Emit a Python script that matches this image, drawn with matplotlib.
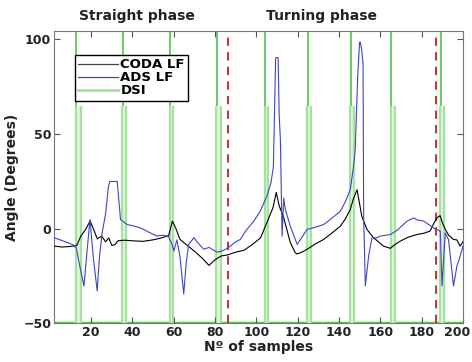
import matplotlib
matplotlib.use("Agg")
import matplotlib.pyplot as plt
from matplotlib.lines import Line2D
import matplotlib.transforms as mtransforms
import numpy as np

# keyframes (sample, angle)
coda_x = [2, 6, 10, 13, 15, 17, 19.5, 21, 23, 25, 27, 28.5, 30, 31.5, 33, 36, 40, 45, 50,
          54, 57.5, 59.3, 61, 63, 66, 70, 74, 77, 80, 83, 86, 90, 94, 98, 102, 105, 108,
          109.6, 111, 113, 116.4, 118.8, 119.6, 122, 124.5, 128, 132.5, 137, 140.6, 143,
          145.4, 147, 148.7, 151, 153.5, 156.7, 159, 161.5, 164.8, 167, 169.6, 173, 177.6,
          181, 184, 186, 187.3, 188.9, 190, 191.4, 193, 195.4, 197, 198.6, 200]
coda_y = [-9.3, -9.8, -9.5, -9, -4, -1, 4, 0, -5.5, -4, -7, -5, -9, -8.5, -6.5, -6.2, -6.5,
          -6.8, -6, -5, -3.7, 3.9, 0, -5.8, -8.5, -12, -16, -19.5, -16.5, -14.5, -14,
          -12.5, -11.5, -8.5, -4.9, 3, 11, 19.1, 12, 6.5, -7.5, -12.8, -13.5, -12.5, -11,
          -8.5, -5.8, -2, 1.2, 5, 10, 16, 20.5, 6.5, -0.5, -4.9, -7, -9.3, -10.5, -8.5, -6.7,
          -4.8, -3.2, -2.5, -1.4, 3, 5.6, 6.8, 3, -0.4, -3.5, -5.8, -6, -9.3, -7]

ads_x = [2, 5, 8.7, 11, 12.8, 14.5, 16.5, 18, 19.4, 21, 22.9, 24, 25.3, 27, 28.3, 29, 32.6,
         34.2, 37.4, 40, 43.9, 48, 51.9, 55, 57.5, 59, 60, 61.5, 63, 64.8, 66, 67.2, 69.7, 72,
         74.5, 77, 80.9, 83.1, 85, 87.4, 90, 92.2, 95, 98.7, 101.8, 105, 107, 108.2, 109.3,
         110.5, 111, 111.6, 112.4, 113.2, 114, 116.4, 119.7, 121.3, 124.5, 128, 132.5, 136,
         140.6, 143, 145.4, 147, 147.8, 149, 149.9, 150.3, 151, 151.6, 151.9, 152.3, 152.7,
         154.3, 155.9, 158, 160, 164.8, 168, 172.9, 176.1, 178, 181, 185.7, 189, 189.8, 191.4,
         193, 195.4, 197, 198.6, 200]
ads_y = [-4.9, -6, -7.5, -8.5, -10.2, -20, -30.4, -12, 4.7, -15, -33, -15, -2.3, 8, 22,
         24.9, 24.9, 4.7, 2.1, 1.5, 0.3, -2, -4, -3.5, -4.4, -8, -11.9, -6, -15, -34.7, -18,
         -8.4, -4.9, -8, -11, -10, -12.5, -12, -11, -9.3, -7, -5.8, -1, 3.9, 9.1, 17, 24,
         32.8, 90.4, 90.4, 60, 46.8, -4, 16.1, 10, 1.2, -8.4, -5.8, -0.5, 0.5, 2.1, 5, 9.1,
         14, 20.5, 32.8, 41.6, 80, 98.6, 98.6, 94, 87, 4.7, -11, -30.4, -14.6, -4.9, -5,
         -4, -3.2, -1, 3.9, 5.6, 4.5, 3.9, 0.3, -1.4, -30.4, -2.3, -6, -30.4, -20, -14.6,
         -9.3]

# DSI pulses: rising and falling sample of each event
dsi_rise = [12.5, 35, 58, 80.6, 104, 124.5, 145.4, 165, 189]
dsi_fall = [15, 36.8, 59.7, 82.6, 105.4, 126.4, 147, 167, 191]
dsi_low = -50
dsi_split = 65

# phase boundaries (red dashed)
phase_x = [86.3, 186.9]
phase_names = ["Straight phase", "Turning phase"]

green = "#5cc85c"
light_green = "#a8e0a0"
txt = "#222222"

fig = plt.figure(figsize=(4.72, 3.62), dpi=100)
ax = fig.add_axes([0.1144, 0.1077, 0.8666, 0.8067])

ax.axhline(dsi_low, color=green, lw=2.5, zorder=1)
for r, f in zip(dsi_rise, dsi_fall):
    ax.fill_betweenx([dsi_low, dsi_split], r, f, color="#e2f5de", lw=0, zorder=1)
    ax.vlines(r, dsi_low, dsi_split, color=light_green, lw=1.6, zorder=1)
    ax.vlines(f, dsi_low, dsi_split, color=light_green, lw=1.6, zorder=1)
    ax.vlines(r + 0.3, dsi_split, 120, color=green, lw=1.3, zorder=1)

for px in phase_x:
    ax.axvline(px, color="#c0393b", lw=1.5, ls=(0, (4, 3)), zorder=2)

ax.plot(coda_x, coda_y, color="black", lw=0.8, zorder=3)
ax.plot(ads_x, ads_y, color="#4045c2", lw=0.8, zorder=3)

ax.set_xlim(2, 200)
ax.set_ylim(-50, 104.5)
ax.set_xticks(np.arange(20, 201, 20))
ax.set_yticks([-50, 0, 50, 100])
ax.tick_params(direction="in", top=True, right=True, length=4, labelsize=9,
               colors="#555555", labelcolor=txt, pad=2)
for lab in ax.get_xticklabels() + ax.get_yticklabels():
    lab.set_fontweight("semibold")
# last x label sits a little left so it stays inside the figure
last = ax.get_xticklabels()[-1]
last.set_transform(last.get_transform() + mtransforms.ScaledTranslation(-6 / 100, 0, fig.dpi_scale_trans))
for s in ax.spines.values():
    s.set_color("#777777")

ax.set_xlabel("Nº of samples", fontsize=10, fontweight="semibold", color=txt, labelpad=1)
ax.set_ylabel("Angle (Degrees)", fontsize=10, fontweight="semibold", color=txt, labelpad=3)

for name, lx in zip(phase_names, [137, 322]):
    fig.text(lx / 472, 1 - 16 / 362, name, ha="center", va="center",
             fontsize=10, fontweight="semibold", color=txt)

handles = [Line2D([], [], color="#444444", lw=0.9),
           Line2D([], [], color="#4045c2", lw=0.9),
           Line2D([], [], color=light_green, lw=2)]
leg = ax.legend(handles, ["CODA LF", "ADS LF", "DSI"], loc="upper left",
                bbox_to_anchor=(0.051, 0.918), handlelength=3.0,
                handletextpad=0.2, labelspacing=0.0, borderpad=0.25,
                borderaxespad=0, fancybox=False, framealpha=1, edgecolor="black",
                prop={"weight": "semibold", "size": 9.5})
leg.get_frame().set_linewidth(1.0)

fig.savefig("out.png", dpi=100)
